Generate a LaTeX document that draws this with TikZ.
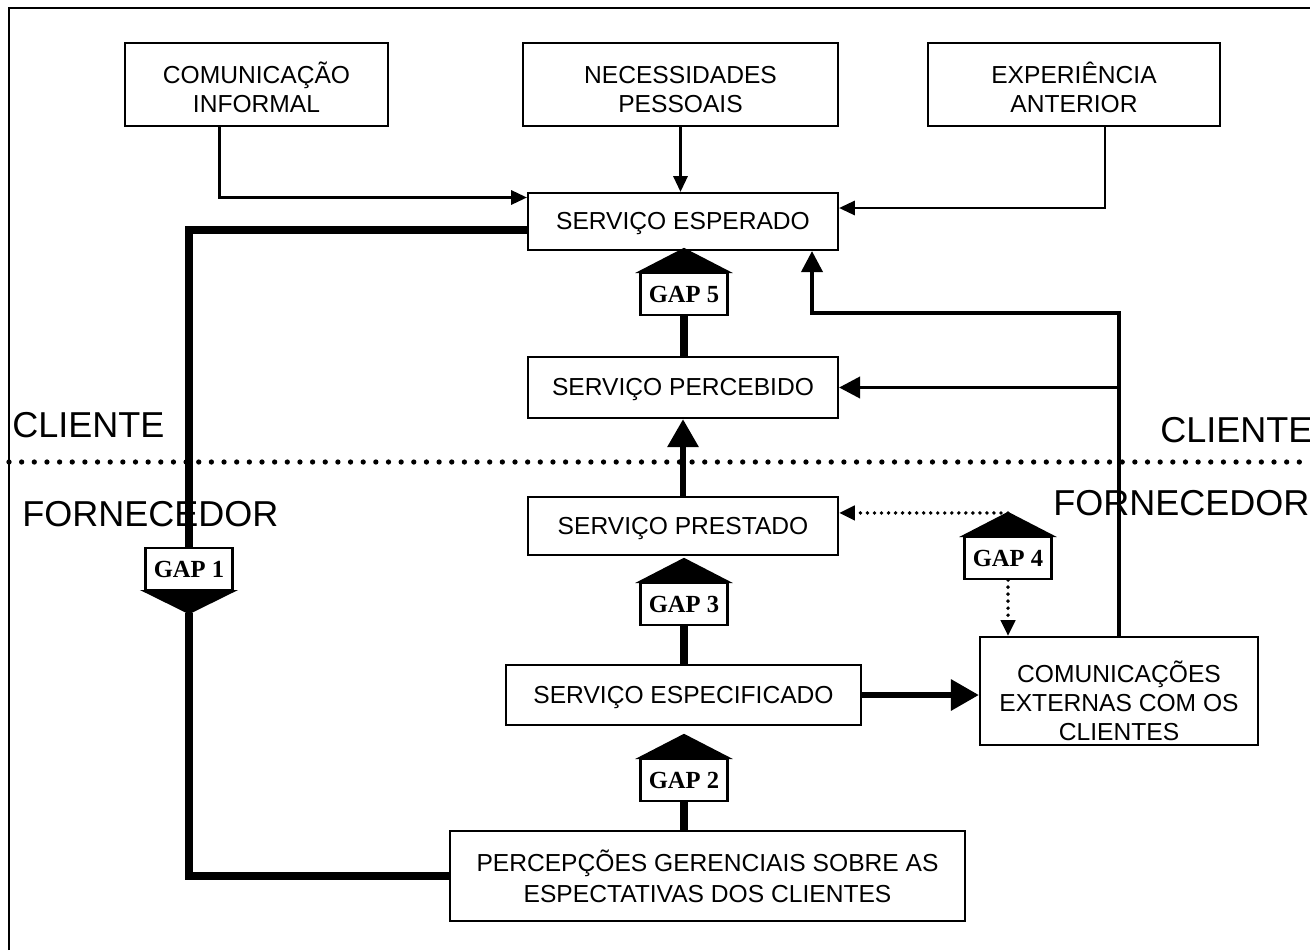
\documentclass[tikz,border=0pt]{standalone}
\usepackage{fontspec}
\setmainfont{Liberation Sans}
\newfontfamily\gapfont{Liberation Serif}
\usetikzlibrary{calc,arrows.meta}

\tikzset{
  box/.style={draw, line width=1.2pt, fill=white, align=center, inner sep=0pt,
    font=\fontsize{14}{16.5}\selectfont},
  gapbox/.style={draw, line width=1.2pt, fill=white, inner sep=0pt,
    minimum width=1.74cm, minimum height=0.84cm,
    font=\gapfont\bfseries\fontsize{14}{15}\selectfont},
  side/.style={inner sep=0pt, anchor=west, font=\fontsize{20.5}{24}\selectfont},
  thinarrow/.style={line width=1.6pt, -{Triangle[length=9pt,width=8pt]}},
  midarrow/.style={line width=2.2pt, -{Triangle[length=12pt,width=12pt]}},
  bigarrow/.style={line width=3.8pt, -{Triangle[length=16pt,width=17pt]}},
  thickline/.style={line width=4.2pt},
  dotarrow/.style={line width=2.2pt, dash pattern=on 0pt off 4pt, line cap=round,
    -{Triangle[length=9pt,width=8pt]}}
}

\begin{document}
\begin{tikzpicture}[x=0.02cm, y=-0.02cm]
  \useasboundingbox (0,0) rectangle (1310,950);
  % frame
  \draw[line width=1.2pt] (9,950) -- (9,8) -- (1310,8);

  % cliente / fornecedor
  \node[side] (cli1) at (12,425) {CLIENTE};
  \node[side] (cli2) at (1160,430) {CLIENTE};
  \node[side] (for1) at (22,514) {FORNECEDOR};
  \node[side] (for2) at (1053,503) {FORNECEDOR};
  \draw[line width=3pt, dash pattern=on 0pt off 7.2pt, line cap=round] (9,462) -- (1310,462);

  % upper boxes
  \node[box, minimum width=5.26cm, minimum height=1.66cm] (informal) at (256.5,84.5) {\rule{0pt}{16pt}COMUNICAÇÃO\\INFORMAL};
  \node[box, minimum width=6.3cm, minimum height=1.66cm] (necess) at (680.5,84.5) {\rule{0pt}{16pt}NECESSIDADES\\PESSOAIS};
  \node[box, minimum width=5.84cm, minimum height=1.66cm] (exper) at (1074,84.5) {\rule{0pt}{16pt}EXPERIÊNCIA\\ANTERIOR};

  % service boxes
  \node[box, minimum width=6.2cm, minimum height=1.14cm] (esperado) at (683,221.5) {\vphantom{Ê}SERVIÇO ESPERADO};
  \node[box, minimum width=6.2cm, minimum height=1.22cm] (percebido) at (683,387.5) {\vphantom{Ê}SERVIÇO PERCEBIDO};
  \node[box, minimum width=6.2cm, minimum height=1.16cm] (prestado) at (683,526) {\vphantom{Ê}SERVIÇO PRESTADO};
  \node[box, minimum width=7.1cm, minimum height=1.2cm] (especif) at (683.5,695) {\vphantom{Ê}SERVIÇO ESPECIFICADO};
  \node[box, minimum width=5.56cm, minimum height=2.16cm] (comext) at (1119,691) {\rule{0pt}{23pt}COMUNICAÇÕES\\EXTERNAS COM OS\\CLIENTES};
  \node[box, minimum width=10.3cm, minimum height=1.8cm, font=\fontsize{14}{17.5}\selectfont] (percep) at (707.5,876) {PERCEPÇÕES GERENCIAIS SOBRE AS\\ESPECTATIVAS DOS CLIENTES};

  % gaps
  \node[gapbox] (g1) at (189,569) {GAP 1};
  \node[gapbox] (g2) at (684,780) {GAP 2};
  \node[gapbox] (g3) at (684,604) {GAP 3};
  \node[gapbox] (g4) at (1008,558) {GAP 4};
  \node[gapbox] (g5) at (684,294) {GAP 5};
  \foreach \g in {g2,g3,g4,g5}
    \filldraw[line width=1.2pt] (\g.north west) -- (\g.north east) -- ($(\g.north)+(0,-23)$) -- cycle;
  \filldraw[line width=1.2pt] (g1.south west) -- (g1.south east) -- ($(g1.south)+(0,22)$) -- cycle;
  \coordinate (g1tip) at ($(g1.south)+(0,22)$);
  \coordinate (g4top) at ($(g4.north)+(0,-23)$);

  % expectations
  \draw[thinarrow] ([xshift=-0.74cm]informal.south) |- ([yshift=0.48cm]esperado.west);
  \draw[thinarrow] (necess.south) -- (necess.south |- esperado.north);
  \draw[thinarrow] ([xshift=0.62cm]exper.south) |- ([yshift=0.27cm]esperado.east);

  % gap 1
  \draw[thickline] ([yshift=-0.17cm]esperado.west) -| (g1.north);
  \draw[thickline] (g1tip) |- (percep.west);

  % central chain
  \draw[thickline] (g5.south) -- (g5.south |- percebido.north);
  \draw[bigarrow] (prestado.north) -- (percebido.south);
  \draw[thickline] (g3.south) -- (g3.south |- especif.north);
  \draw[thickline] (g2.south) -- (g2.south |- percep.north);
  \draw[bigarrow] (especif.east) -- (especif.east -| comext.west);

  % external communications
  \coordinate (bend) at (812,313);
  \draw[midarrow] (comext.north) |- (bend) -- (bend |- esperado.south);
  \draw[midarrow] (comext.north |- percebido.east) -- (percebido.east);

  % gap 4
  \draw[dotarrow] (g4top) -- (g4top -| prestado.east);
  \draw[dotarrow] (g4.south) -- (g4.south |- comext.north);
\end{tikzpicture}
\end{document}
